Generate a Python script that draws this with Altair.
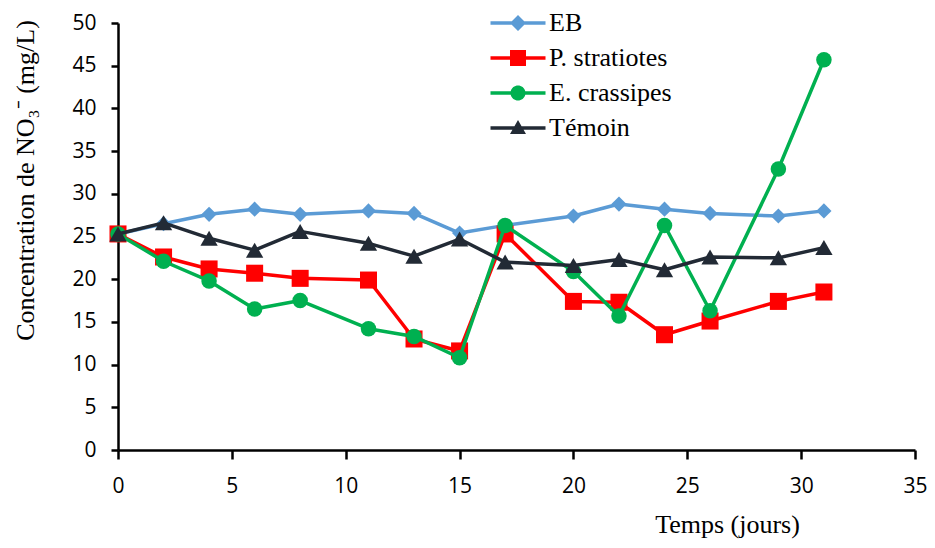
import altair as alt
import pandas as pd

days = [0, 2, 4, 6, 8, 11, 13, 15, 17, 20, 22, 24, 26, 29, 31]
series_names = ["EB", "P. stratiotes", "E. crassipes", "Témoin"]
eb = [25.3, 26.5, 27.6, 28.2, 27.6, 28.0, 27.7, 25.4, 26.3, 27.4, 28.8, 28.2, 27.7, 27.4, 28.0]
p_stratiotes = [25.3, 22.6, 21.2, 20.7, 20.1, 19.9, 13.0, 11.6, 25.3, 17.4, 17.3, 13.5, 15.1, 17.4, 18.5]
e_crassipes = [25.3, 22.1, 19.8, 16.5, 17.5, 14.2, 13.3, 10.8, 26.3, 20.9, 15.7, 26.3, 16.3, 32.9, 45.7]
temoin = [25.3, 26.6, 24.8, 23.4, 25.6, 24.2, 22.7, 24.7, 22.0, 21.6, 22.3, 21.1, 22.6, 22.5, 23.7]

colors = ["#5B9BD5", "#FF0000", "#00B050", "#222A35"]
marker_shapes = ["diamond", "square", "circle", "triangle-up"]
marker_sizes = [230, 290, 240, 300]
legend_paths = [
    "M-5.5,-0.35 H-1.25 L0,-1.6 L1.25,-0.35 H5.5 V0.35 H1.25 L0,1.6 L-1.25,0.35 H-5.5 Z",
    "M-5.5,-0.35 H-1.6 V-1.6 H1.6 V-0.35 H5.5 V0.35 H1.6 V1.6 H-1.6 V0.35 H-5.5 Z",
    "M-5.5,-0.35 H-1.459 A1.5,1.5 0 0 1 1.459,-0.35 H5.5 V0.35 H1.459 A1.5,1.5 0 0 1 -1.459,0.35 H-5.5 Z",
    "M-5.5,-0.35 H-0.714 L0,-1.6 L0.714,-0.35 H5.5 V0.35 H1.114 L1.6,1.2 H-1.6 L-1.114,0.35 H-5.5 Z",
]

rows = []
for name, vals in zip(series_names, [eb, p_stratiotes, e_crassipes, temoin]):
    for d, v in zip(days, vals):
        rows.append({"jour": d, "valeur": v, "serie": name})
df = pd.DataFrame(rows)

SERIF = "Liberation Serif"
SANS = "Open Sans"

x_enc = alt.X(
    "jour:Q",
    scale=alt.Scale(domain=[0, 35], nice=False, zero=False),
    axis=alt.Axis(
        values=list(range(0, 36, 5)), title="Temps (jours)", grid=False,
        domainColor="black", domainWidth=2.5, tickColor="black", tickWidth=2.5,
        tickSize=9, labelPadding=16, labelFont=SANS, labelFontSize=21,
        labelColor="black", labelFlush=False,
        titleFont=SERIF, titleFontSize=26, titleFontWeight="normal", titleColor="black",
        titleX=609, titleY=74, titleAlign="center", titleBaseline="middle",
    ),
)
y_enc = alt.Y(
    "valeur:Q",
    scale=alt.Scale(domain=[0, 50], nice=False),
    axis=alt.Axis(
        values=list(range(0, 51, 5)), title="Concentration de NO₃⁻ (mg/L)", grid=False,
        domainColor="black", domainWidth=2.5, tickColor="black", tickWidth=2.5,
        tickSize=7, labelPadding=15, labelFont=SANS, labelFontSize=21,
        labelColor="black", labelFlush=False,
        titleFont=SERIF, titleFontSize=26, titleFontWeight="normal", titleColor="black",
        titleAngle=-90, titleX=-93, titleY=157, titleAlign="center", titleBaseline="middle",
    ),
)

layers = []
for name, col, shp, sz in zip(series_names, colors, marker_shapes, marker_sizes):
    base = alt.Chart(df).transform_filter(alt.datum.serie == name)
    layers.append(
        base.mark_line(color=col, strokeWidth=3.5, strokeJoin="round").encode(x=x_enc, y=y_enc)
    )
    layers.append(
        base.mark_point(shape=shp, size=sz, filled=True, color=col, opacity=1).encode(x=x_enc, y=y_enc)
    )

leg_kwargs = dict(
    title=None, orient="none", legendX=387, legendY=-13, symbolSize=100,
    labelFont=SERIF, labelFontSize=26, labelColor="black", labelOffset=18,
    rowPadding=9, padding=0, symbolStrokeWidth=0, symbolOpacity=1, labelLimit=400,
)
legend_layer = alt.Chart(df).transform_filter("false").mark_point(filled=True, opacity=1).encode(
    x=x_enc,
    y=y_enc,
    color=alt.Color("serie:N", scale=alt.Scale(domain=series_names, range=colors),
                    legend=alt.Legend(**leg_kwargs)),
    shape=alt.Shape("serie:N", scale=alt.Scale(domain=series_names, range=legend_paths),
                    legend=alt.Legend(**leg_kwargs)),
)

chart = alt.layer(*layers, legend_layer).properties(
    width=797, height=427,
    autosize=alt.AutoSizeParams(type="none"),
    padding={"left": 110, "top": 15, "right": 12, "bottom": 90},
    background="white",
).configure_view(stroke=None)

chart.save("out.html", embed_options={"renderer": "svg", "actions": False})
